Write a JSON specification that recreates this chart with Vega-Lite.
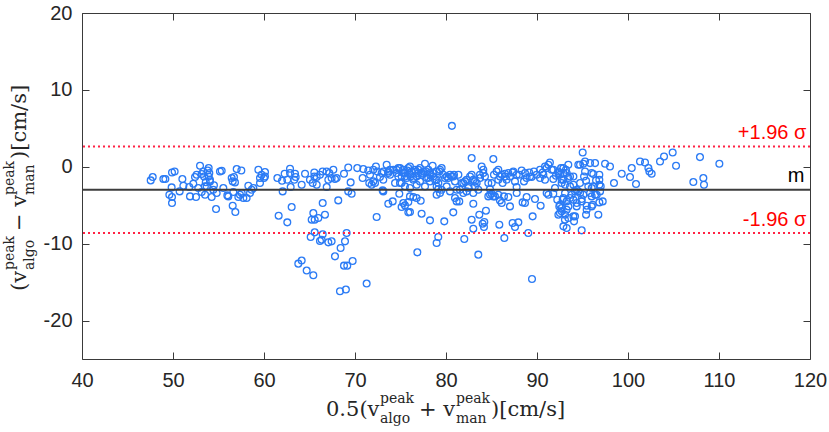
{
"$schema": "https://vega.github.io/schema/vega-lite/v6.json",
"width": 728, "height": 346,
"autosize": {"type": "none"},
"padding": {"left": 82, "top": 13, "right": 19, "bottom": 73},
"background": "white",
"config": {"view": {"stroke": "#3a3a3a", "strokeWidth": 1}, "font": "Liberation Sans"},
"datasets": {
"one": [{"k": 1}],
"pts": [
{"m":47.55,"d":-1.77},{"m":47.77,"d":-1.34},{"m":48.94,"d":-1.6},{"m":49.16,"d":-1.6},{"m":49.89,"d":-0.74},{"m":50.18,"d":-0.61},{"m":51.03,"d":-1.6},{"m":52.42,"d":-1.34},{"m":52.6,"d":-1.04},{"m":52.97,"d":0.13},{"m":53.41,"d":-1.26},{"m":53.81,"d":-0.48},{"m":53.92,"d":-0.17},{"m":53.99,"d":-0.82},{"m":55.16,"d":-0.61},{"m":55.35,"d":-0.52},{"m":56.45,"d":-1.47},{"m":56.56,"d":-1.9},{"m":56.7,"d":-1.34},{"m":57.0,"d":-0.3},{"m":57.51,"d":-0.48},{"m":59.38,"d":-0.39},{"m":59.56,"d":-1.47},{"m":59.74,"d":-1.04},{"m":60.0,"d":-1.47},{"m":60.11,"d":-0.69},{"m":61.47,"d":-1.47},{"m":61.98,"d":-1.82},{"m":62.27,"d":-0.91},{"m":62.56,"d":-1.69},{"m":62.86,"d":-0.26},{"m":63.41,"d":-0.91},{"m":63.48,"d":-1.34},{"m":64.51,"d":-0.91},{"m":65.05,"d":-1.69},{"m":65.53,"d":-0.74},{"m":65.79,"d":-1.34},{"m":67.07,"d":-1.69},
{"m":49.6,"d":-3.64},{"m":49.85,"d":-2.68},{"m":49.89,"d":-3.94},{"m":50.73,"d":-3.2},{"m":51.14,"d":-2.47},{"m":51.79,"d":-2.64},{"m":51.87,"d":-3.85},{"m":52.23,"d":-2.21},{"m":52.53,"d":-3.94},{"m":53.52,"d":-3.64},{"m":53.7,"d":-2.55},{"m":54.07,"d":-1.9},{"m":54.25,"d":-3.94},{"m":54.43,"d":-2.99},{"m":54.8,"d":-3.42},{"m":55.53,"d":-2.77},{"m":56.08,"d":-3.85},{"m":56.81,"d":-2.03},{"m":57.18,"d":-3.94},{"m":57.55,"d":-3.42},{"m":57.73,"d":-4.07},{"m":58.28,"d":-2.47},{"m":58.46,"d":-3.42},{"m":58.64,"d":-2.99},{"m":58.83,"d":-2.77},{"m":59.56,"d":-2.12},{"m":62.05,"d":-3.2},{"m":62.93,"d":-2.64},{"m":64.14,"d":-2.34},{"m":65.35,"d":-2.12},{"m":66.89,"d":-2.64},
{"m":49.89,"d":-4.72},{"m":54.73,"d":-5.5},{"m":56.56,"d":-5.06},{"m":56.85,"d":-5.89},{"m":61.61,"d":-6.36},{"m":62.56,"d":-7.23},{"m":63.04,"d":-5.24},{"m":65.42,"d":-6.02},{"m":65.57,"d":-6.88},{"m":65.97,"d":-6.67},{"m":66.7,"d":-6.23},{"m":66.45,"d":-4.72},{"m":65.13,"d":-9.13},{"m":65.57,"d":-8.53},{"m":66.15,"d":-9.65},{"m":66.45,"d":-8.79},{"m":67.07,"d":-9.83},{"m":63.77,"d":-12.6},{"m":64.14,"d":-12.2},{"m":64.69,"d":-13.5},{"m":65.42,"d":-14.1},
{"m":53.33,"d":-0.61},{"m":53.92,"d":-1.26},{"m":54.06,"d":-1.69},{"m":53.15,"d":-0.95},{"m":53.5,"d":-2.55},{"m":53.15,"d":-3.29},{"m":52.78,"d":-2.77},{"m":55.97,"d":-3.72},{"m":56.63,"d":-3.29},{"m":57.36,"d":-3.64},{"m":53.6,"d":-2.0},{"m":54.5,"d":-2.4},
{"m":60.11,"d":-1.26},{"m":58.09,"d":-4.07},{"m":62.86,"d":-0.82},{"m":63.33,"d":-1.69},{"m":65.53,"d":-1.26},{"m":65.79,"d":-2.34},{"m":66.15,"d":-1.04},{"m":65.24,"d":-6.88},
{"m":66.44,"d":-0.61},{"m":66.88,"d":-0.61},{"m":67.18,"d":-0.82},{"m":67.43,"d":-1.47},{"m":67.62,"d":-0.39},{"m":67.8,"d":-1.6},{"m":67.98,"d":-1.47},{"m":68.79,"d":-0.91},{"m":69.26,"d":-0.09},{"m":69.52,"d":-2.03},{"m":70.25,"d":-0.17},{"m":70.84,"d":-1.47},{"m":70.91,"d":-0.3},{"m":71.46,"d":-0.48},{"m":71.57,"d":-2.12},{"m":72.01,"d":-1.9},{"m":72.3,"d":0.04},{"m":72.45,"d":-0.61},{"m":72.74,"d":-1.34},{"m":73.11,"d":-0.61},{"m":73.48,"d":0.26},{"m":73.66,"d":-0.82},{"m":73.84,"d":-0.39},{"m":74.57,"d":-0.39},{"m":74.76,"d":-1.26},{"m":74.94,"d":-0.17},{"m":75.12,"d":-2.12},{"m":75.31,"d":-0.82},{"m":75.49,"d":-1.26},{"m":75.75,"d":-0.48},{"m":76.04,"d":0.04},{"m":76.11,"d":-1.26},{"m":76.41,"d":-1.47},{"m":76.7,"d":-0.61},{"m":76.96,"d":-0.39},{"m":77.14,"d":-1.9},{"m":77.32,"d":-0.82},{"m":77.69,"d":0.39},{"m":77.8,"d":-0.61},{"m":78.05,"d":-1.47},{"m":78.24,"d":-0.82},{"m":78.53,"d":0.13},{"m":78.6,"d":-1.26},{"m":78.97,"d":-1.69},{"m":79.26,"d":-0.61},{"m":79.52,"d":-0.17},{"m":79.7,"d":-1.04},{"m":79.89,"d":-1.47},{"m":80.25,"d":-1.47},{"m":80.62,"d":-1.26},{"m":80.88,"d":-1.04},{"m":80.99,"d":-1.9},{"m":81.17,"d":-2.99},{"m":81.53,"d":-2.99},{"m":81.9,"d":-2.12},{"m":82.27,"d":-1.69},{"m":82.45,"d":-2.77},{"m":82.82,"d":1.13},{"m":82.82,"d":-1.04},{"m":83.0,"d":-1.69},{"m":83.18,"d":-2.55},{"m":83.37,"d":-2.12},{"m":83.73,"d":-1.04},{"m":83.92,"d":0.04},{"m":84.1,"d":-0.39},{"m":84.28,"d":-1.26},{"m":84.65,"d":-2.12},{"m":84.83,"d":-2.9},{"m":85.2,"d":1.0},{"m":85.27,"d":-1.04},{"m":85.56,"d":-0.61},{"m":85.75,"d":-1.69},{"m":85.93,"d":-1.26},{"m":86.22,"d":-2.12},{"m":86.48,"d":-0.91},{"m":86.66,"d":-1.69},{"m":87.03,"d":-1.26},{"m":87.32,"d":-0.74},{"m":87.58,"d":-1.9},{"m":87.76,"d":-2.64},{"m":88.05,"d":-1.04},{"m":88.31,"d":-0.48},{"m":88.57,"d":-1.9},{"m":88.86,"d":-1.47},{"m":89.15,"d":-0.74},{"m":89.41,"d":-1.34},{"m":89.67,"d":-0.61},{"m":89.96,"d":-1.04},{"m":90.33,"d":-1.47},{"m":90.62,"d":-0.74},{"m":90.88,"d":-1.69},{"m":91.06,"d":-0.17},{"m":91.42,"d":0.56},{"m":91.61,"d":-0.39},{"m":91.79,"d":-1.6},{"m":92.08,"d":-1.17},{"m":92.34,"d":-0.61},{"m":92.52,"d":-1.04},{"m":92.89,"d":-1.69},{"m":93.18,"d":-0.39},{"m":93.44,"d":0.26},{"m":80.65,"d":5.32},
{"m":68.16,"d":-4.37},{"m":69.26,"d":-3.2},{"m":69.63,"d":-3.51},{"m":72.38,"d":-6.54},{"m":73.04,"d":-3.07},{"m":73.66,"d":-4.81},{"m":74.14,"d":-4.5},{"m":74.87,"d":-3.51},{"m":75.12,"d":-5.24},{"m":75.31,"d":-4.72},{"m":75.86,"d":-5.93},{"m":76.04,"d":-3.85},{"m":76.41,"d":-3.94},{"m":76.77,"d":-4.07},{"m":77.32,"d":-6.1},{"m":78.24,"d":-6.97},{"m":78.97,"d":-3.64},{"m":79.15,"d":-2.9},{"m":79.81,"d":-7.1},{"m":80.8,"d":-5.93},{"m":80.99,"d":-4.07},{"m":81.46,"d":-4.5},{"m":81.9,"d":-3.42},{"m":82.27,"d":-3.2},{"m":82.82,"d":-6.88},{"m":83.0,"d":-4.81},{"m":83.66,"d":-6.23},{"m":84.03,"d":-7.4},{"m":84.17,"d":-7.84},{"m":84.39,"d":-5.71},{"m":84.65,"d":-3.85},{"m":85.01,"d":-3.51},{"m":85.38,"d":-3.85},{"m":85.86,"d":-7.53},{"m":85.93,"d":-4.37},{"m":86.37,"d":-3.85},{"m":86.85,"d":-3.94},{"m":87.03,"d":-5.15},{"m":87.32,"d":-7.32},{"m":87.58,"d":-7.84},{"m":87.95,"d":-7.23},{"m":88.42,"d":-4.63},{"m":88.86,"d":-3.94},{"m":89.52,"d":-6.45},{"m":89.78,"d":-4.2},{"m":90.4,"d":-5.06},{"m":91.06,"d":-3.42},{"m":91.79,"d":-3.51},{"m":92.23,"d":-4.29},{"m":92.45,"d":-5.15},{"m":92.52,"d":-6.02},{"m":92.82,"d":-4.29},{"m":93.07,"d":-6.88},{"m":93.26,"d":-5.58},{"m":93.26,"d":-7.97},
{"m":66.33,"d":-9.48},{"m":67.43,"d":-9.7},{"m":67.8,"d":-11.65},{"m":68.42,"d":-10.56},{"m":68.9,"d":-9.7},{"m":69.08,"d":-8.61},{"m":68.79,"d":-12.86},{"m":69.15,"d":-12.86},{"m":69.74,"d":-12.25},{"m":71.28,"d":-15.19},{"m":68.35,"d":-16.19},{"m":69.0,"d":-15.97},{"m":76.85,"d":-11.13},{"m":78.97,"d":-9.91},{"m":79.15,"d":-9.13},{"m":82.01,"d":-9.39},{"m":83.55,"d":-11.43},{"m":86.41,"d":-9.26},{"m":89.04,"d":-8.61},{"m":89.45,"d":-14.59},
{"m":73.66,"d":-0.61},{"m":73.85,"d":-1.04},{"m":74.21,"d":-0.39},{"m":74.58,"d":-0.82},{"m":74.76,"d":-0.17},{"m":75.13,"d":-1.26},{"m":75.31,"d":-0.39},{"m":75.49,"d":-0.82},{"m":75.68,"d":-1.47},{"m":75.86,"d":-0.17},{"m":76.04,"d":-1.04},{"m":76.23,"d":-0.61},{"m":76.41,"d":-1.69},{"m":76.59,"d":-0.39},{"m":76.78,"d":-1.26},{"m":76.96,"d":-0.82},{"m":77.14,"d":-0.17},{"m":77.33,"d":-1.04},{"m":77.51,"d":-0.61},{"m":77.87,"d":-1.47},{"m":78.06,"d":-0.39},{"m":78.24,"d":-1.04},{"m":78.61,"d":-0.82},{"m":78.79,"d":-1.69},{"m":78.97,"d":-0.61},{"m":79.16,"d":-2.12},{"m":79.34,"d":-0.39},{"m":80.07,"d":-1.26},{"m":80.44,"d":-1.04},{"m":80.81,"d":-1.26},{"m":73.11,"d":-1.69},{"m":74.4,"d":-2.12},{"m":74.94,"d":-2.12},{"m":75.49,"d":-2.55},{"m":76.04,"d":-2.77},{"m":76.78,"d":-2.34},{"m":77.69,"d":-2.55},{"m":78.24,"d":-1.9},{"m":78.97,"d":-2.55},{"m":79.52,"d":-2.99},{"m":80.07,"d":-2.55},{"m":80.44,"d":-3.2},{"m":73.11,"d":-3.2},{"m":75.49,"d":-5.02},{"m":75.86,"d":-4.59},{"m":77.22,"d":-4.42},{"m":76.04,"d":-5.89},{"m":79.34,"d":-3.42},{"m":71.65,"d":-1.04},{"m":72.01,"d":-0.39},{"m":72.93,"d":-0.82},{"m":71.83,"d":-2.34},{"m":72.2,"d":-2.12},
{"m":84.1,"d":-0.82},{"m":83.74,"d":-1.47},{"m":85.02,"d":-2.12},{"m":85.75,"d":-0.39},{"m":86.12,"d":-1.04},{"m":86.48,"d":-1.26},{"m":86.85,"d":-0.82},{"m":87.4,"d":-0.61},{"m":87.77,"d":-1.04},{"m":88.68,"d":-0.82},{"m":89.23,"d":-1.26},{"m":90.33,"d":-0.39},{"m":90.7,"d":-1.04},{"m":90.88,"d":0.04},{"m":91.25,"d":0.26},{"m":91.8,"d":-0.39},{"m":92.35,"d":-0.82},{"m":92.64,"d":-0.17},{"m":81.72,"d":-2.12},{"m":82.09,"d":-1.9},{"m":82.64,"d":-1.26},{"m":81.36,"d":-1.04},{"m":82.46,"d":-2.55},{"m":83.0,"d":-3.42},{"m":83.19,"d":-1.9},{"m":83.55,"d":-2.99},{"m":84.84,"d":-3.64},{"m":85.2,"d":-3.85},{"m":85.75,"d":-3.64},{"m":86.12,"d":-4.72},{"m":87.77,"d":-3.42},{"m":88.68,"d":-4.72},{"m":91.25,"d":-3.64},{"m":91.98,"d":-2.77},{"m":92.53,"d":-4.94},{"m":92.71,"d":-5.8},{"m":92.35,"d":-6.23},{"m":92.9,"d":-7.75},{"m":81.17,"d":-4.5},{"m":83.0,"d":-8.05},{"m":84.21,"d":-7.19},
{"m":95.02,"d":1.86},{"m":94.73,"d":0.26},{"m":95.09,"d":0.39},{"m":95.83,"d":0.48},{"m":96.38,"d":0.48},{"m":97.48,"d":0.39},{"m":98.02,"d":0.04},{"m":101.32,"d":0.69},{"m":101.87,"d":0.56},{"m":103.52,"d":0.69},{"m":103.96,"d":1.34},{"m":104.91,"d":1.86},{"m":105.28,"d":0.13},{"m":107.91,"d":1.26},{"m":110.04,"d":0.39},{"m":98.46,"d":-2.12},{"m":99.31,"d":-0.91},{"m":100.22,"d":-1.34},{"m":100.41,"d":-0.17},{"m":100.88,"d":-2.25},{"m":102.24,"d":-0.17},{"m":102.35,"d":-0.61},{"m":102.6,"d":-0.91},{"m":107.18,"d":-1.99},{"m":108.28,"d":-1.47},{"m":108.35,"d":-2.34},{"m":95.28,"d":-0.61},{"m":96.01,"d":-0.82},{"m":96.85,"d":-1.04},{"m":96.85,"d":-1.69},{"m":96.85,"d":-2.34},{"m":96.49,"d":-1.77},{"m":96.19,"d":-2.55},{"m":97.0,"d":-2.55},{"m":96.85,"d":-4.63},{"m":97.22,"d":-4.5},{"m":96.74,"d":-6.23},{"m":96.12,"d":-4.94},{"m":95.39,"d":-6.23},{"m":95.46,"d":-5.06},{"m":94.91,"d":-4.2},{"m":94.18,"d":-6.45},{"m":94.91,"d":-8.27},{"m":93.45,"d":-5.15},{"m":94.0,"d":-4.29},{"m":94.36,"d":-4.72},{"m":92.71,"d":-2.12},{"m":92.9,"d":-0.82},{"m":93.63,"d":-1.26},{"m":94.0,"d":-2.34},{"m":94.54,"d":-3.2},{"m":95.09,"d":-3.64},{"m":95.83,"d":-3.42},{"m":96.38,"d":-3.64},{"m":96.01,"d":-2.77},{"m":93.08,"d":-3.42},{"m":93.63,"d":-4.07},{"m":94.73,"d":-2.12},
{"m":92.9,"d":-0.17},{"m":93.26,"d":-0.82},{"m":92.71,"d":-1.69},{"m":93.08,"d":-2.34},{"m":93.45,"d":-1.47},{"m":93.63,"d":-2.55},{"m":93.81,"d":-3.64},{"m":94.0,"d":-1.26},{"m":94.18,"d":-3.2},{"m":92.9,"d":-4.07},{"m":93.26,"d":-4.5},{"m":92.71,"d":-5.37},{"m":93.08,"d":-6.23},{"m":93.45,"d":-6.67},{"m":94.0,"d":-6.45},{"m":94.36,"d":-5.15},{"m":94.54,"d":0.26},{"m":95.28,"d":0.69},{"m":96.19,"d":-0.95},{"m":95.17,"d":-1.26},{"m":95.39,"d":-1.82},{"m":95.64,"d":-2.55},{"m":96.01,"d":-3.85},{"m":96.56,"d":-3.64},{"m":96.93,"d":-3.2},{"m":96.01,"d":-5.15},{"m":95.46,"d":-5.58},{"m":94.91,"d":-4.5},{"m":94.73,"d":-3.42},{"m":94.36,"d":-2.99},{"m":94.07,"d":-7.1}
]
},
"layer": [
{"data": {"name": "pts"},
 "mark": {"type": "point", "shape": "circle", "filled": false, "size": 46, "strokeWidth": 1.3, "color": "#2b7bf5", "opacity": 1},
 "encoding": {
  "x": {"field": "m", "type": "quantitative", "scale": {"domain": [40, 120], "nice": false, "zero": false},
        "axis": {"orient": "bottom", "title": null, "values": [40,50,60,70,80,90,100,110,120], "grid": false, "domain": false, "ticks": false, "labelPadding": 11, "labelFontSize": 20, "labelFont": "Liberation Sans", "labelColor": "#262626", "labelFlush": false}},
  "y": {"field": "d", "type": "quantitative", "scale": {"domain": [-25, 20], "nice": false, "zero": false},
        "axis": {"orient": "left", "title": null, "values": [-20,-10,0,10,20], "grid": false, "domain": false, "ticks": false, "labelPadding": 10, "labelFontSize": 20, "labelFont": "Liberation Sans", "labelColor": "#262626", "labelFlush": false, "labelExpr": "replace(datum.label, '−', '-')"}}
 }},
{"data": {"name": "one"},
 "mark": {"type": "point", "opacity": 0},
 "encoding": {
  "x": {"datum": 40, "type": "quantitative", "axis": {"orient": "top", "offset": -346, "title": null, "labels": false, "values": [40,50,60,70,80,90,100,110,120], "grid": false, "domain": false, "ticks": true, "tickSize": 7, "tickColor": "#3a3a3a"}},
  "y": {"datum": -25, "type": "quantitative", "axis": {"orient": "right", "offset": -728, "title": null, "labels": false, "values": [-20,-10,0,10,20], "grid": false, "domain": false, "ticks": true, "tickSize": 7, "tickColor": "#3a3a3a"}}
 }},
{"data": {"name": "one"},
 "mark": {"type": "point", "opacity": 0},
 "encoding": {
  "x": {"datum": 40, "type": "quantitative", "axis": {"orient": "bottom", "offset": -346, "title": null, "labels": false, "values": [40,50,60,70,80,90,100,110,120], "grid": false, "domain": false, "ticks": true, "tickSize": 7, "tickColor": "#3a3a3a"}},
  "y": {"datum": -25, "type": "quantitative", "axis": {"orient": "left", "offset": -728, "title": null, "labels": false, "values": [-20,-10,0,10,20], "grid": false, "domain": false, "ticks": true, "tickSize": 7, "tickColor": "#3a3a3a"}}
 }},
{"data": {"values": [{"v": -2.98}]},
 "mark": {"type": "rule", "color": "#3d3d3d", "strokeWidth": 2},
 "encoding": {"y": {"field": "v", "type": "quantitative", "axis": null}}},
{"data": {"values": [{"v": 2.64}, {"v": -8.6}]},
 "mark": {"type": "rule", "color": "#ff2244", "strokeWidth": 2, "strokeDash": [2, 3]},
 "encoding": {"y": {"field": "v", "type": "quantitative", "axis": null}}},
{"data": {"name": "one"},
 "mark": {"type": "text", "align": "right", "baseline": "alphabetic", "dy": -7, "fontSize": 20, "font": "Liberation Sans", "color": "#ff0000"},
 "encoding": {"x": {"datum": 119.6, "axis": null}, "y": {"datum": 2.64, "axis": null}, "text": {"value": "+1.96 σ"}}},
{"data": {"name": "one"},
 "mark": {"type": "text", "align": "right", "baseline": "alphabetic", "dy": -7, "fontSize": 20, "font": "Liberation Sans", "color": "#ff0000"},
 "encoding": {"x": {"datum": 119.6, "axis": null}, "y": {"datum": -8.6, "axis": null}, "text": {"value": "-1.96 σ"}}},
{"data": {"name": "one"},
 "mark": {"type": "text", "align": "right", "baseline": "alphabetic", "dy": -8, "fontSize": 20, "font": "Liberation Sans", "color": "#000000"},
 "encoding": {"x": {"datum": 119.4, "axis": null}, "y": {"datum": -2.98, "axis": null}, "text": {"value": "m"}}},
{"data": {"name": "one"},
 "mark": {"type": "text", "align": "left", "baseline": "alphabetic", "dx": -120, "dy": 57, "fontSize": 21, "font": "DejaVu Serif", "color": "#262626"},
 "encoding": {"x": {"datum": 80, "axis": null}, "y": {"datum": -25, "axis": null}, "text": {"value": "0.5(v"}}},
{"data": {"name": "one"},
 "mark": {"type": "text", "align": "left", "baseline": "alphabetic", "dx": -66, "dy": 44, "fontSize": 14, "font": "DejaVu Serif", "color": "#262626"},
 "encoding": {"x": {"datum": 80, "axis": null}, "y": {"datum": -25, "axis": null}, "text": {"value": "peak"}}},
{"data": {"name": "one"},
 "mark": {"type": "text", "align": "left", "baseline": "alphabetic", "dx": -66, "dy": 64, "fontSize": 14, "font": "DejaVu Serif", "color": "#262626"},
 "encoding": {"x": {"datum": 80, "axis": null}, "y": {"datum": -25, "axis": null}, "text": {"value": "algo"}}},
{"data": {"name": "one"},
 "mark": {"type": "text", "align": "left", "baseline": "alphabetic", "dx": -27, "dy": 57, "fontSize": 21, "font": "DejaVu Serif", "color": "#262626"},
 "encoding": {"x": {"datum": 80, "axis": null}, "y": {"datum": -25, "axis": null}, "text": {"value": "+ v"}}},
{"data": {"name": "one"},
 "mark": {"type": "text", "align": "left", "baseline": "alphabetic", "dx": 10, "dy": 44, "fontSize": 14, "font": "DejaVu Serif", "color": "#262626"},
 "encoding": {"x": {"datum": 80, "axis": null}, "y": {"datum": -25, "axis": null}, "text": {"value": "peak"}}},
{"data": {"name": "one"},
 "mark": {"type": "text", "align": "left", "baseline": "alphabetic", "dx": 10, "dy": 64, "fontSize": 14, "font": "DejaVu Serif", "color": "#262626"},
 "encoding": {"x": {"datum": 80, "axis": null}, "y": {"datum": -25, "axis": null}, "text": {"value": "man"}}},
{"data": {"name": "one"},
 "mark": {"type": "text", "align": "left", "baseline": "alphabetic", "dx": 45, "dy": 57, "fontSize": 21, "font": "DejaVu Serif", "color": "#262626"},
 "encoding": {"x": {"datum": 80, "axis": null}, "y": {"datum": -25, "axis": null}, "text": {"value": ")[cm/s]"}}},
{"data": {"name": "one"},
 "mark": {"type": "text", "align": "left", "baseline": "alphabetic", "angle": 270, "dx": -105, "dy": -56, "fontSize": 21, "font": "DejaVu Serif", "color": "#262626"},
 "encoding": {"x": {"datum": 40, "axis": null}, "y": {"datum": -2.5, "axis": null}, "text": {"value": "(v"}}},
{"data": {"name": "one"},
 "mark": {"type": "text", "align": "left", "baseline": "alphabetic", "angle": 270, "dx": -84, "dy": -68, "fontSize": 14, "font": "DejaVu Serif", "color": "#262626"},
 "encoding": {"x": {"datum": 40, "axis": null}, "y": {"datum": -2.5, "axis": null}, "text": {"value": "peak"}}},
{"data": {"name": "one"},
 "mark": {"type": "text", "align": "left", "baseline": "alphabetic", "angle": 270, "dx": -84, "dy": -48, "fontSize": 14, "font": "DejaVu Serif", "color": "#262626"},
 "encoding": {"x": {"datum": 40, "axis": null}, "y": {"datum": -2.5, "axis": null}, "text": {"value": "algo"}}},
{"data": {"name": "one"},
 "mark": {"type": "text", "align": "left", "baseline": "alphabetic", "angle": 270, "dx": -45, "dy": -56, "fontSize": 21, "font": "DejaVu Serif", "color": "#262626"},
 "encoding": {"x": {"datum": 40, "axis": null}, "y": {"datum": -2.5, "axis": null}, "text": {"value": "− v"}}},
{"data": {"name": "one"},
 "mark": {"type": "text", "align": "left", "baseline": "alphabetic", "angle": 270, "dx": -9, "dy": -68, "fontSize": 14, "font": "DejaVu Serif", "color": "#262626"},
 "encoding": {"x": {"datum": 40, "axis": null}, "y": {"datum": -2.5, "axis": null}, "text": {"value": "peak"}}},
{"data": {"name": "one"},
 "mark": {"type": "text", "align": "left", "baseline": "alphabetic", "angle": 270, "dx": -9, "dy": -48, "fontSize": 14, "font": "DejaVu Serif", "color": "#262626"},
 "encoding": {"x": {"datum": 40, "axis": null}, "y": {"datum": -2.5, "axis": null}, "text": {"value": "man"}}},
{"data": {"name": "one"},
 "mark": {"type": "text", "align": "left", "baseline": "alphabetic", "angle": 270, "dx": 27, "dy": -56, "fontSize": 21, "font": "DejaVu Serif", "color": "#262626"},
 "encoding": {"x": {"datum": 40, "axis": null}, "y": {"datum": -2.5, "axis": null}, "text": {"value": ")[cm/s]"}}}
],
"resolve": {"axis": {"x": "independent", "y": "independent"}}
}
